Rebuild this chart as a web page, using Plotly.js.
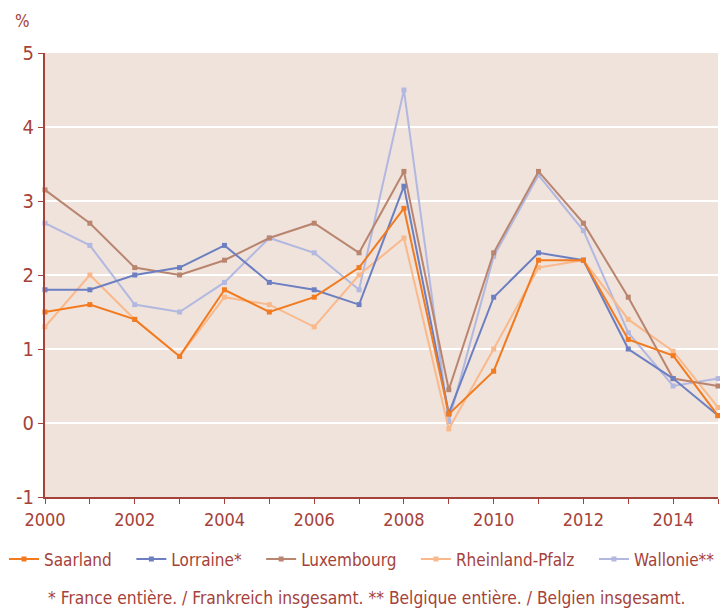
<!DOCTYPE html>
<html>
<head>
<meta charset="utf-8">
<script src="https://cdn.plot.ly/plotly-3.0.1.min.js"></script>
<style>body{margin:0;padding:0;background:#fff;}#chart{width:720px;height:608px;}</style>
</head>
<body>
<div id="chart"></div>
<script>
const years = [2000,2001,2002,2003,2004,2005,2006,2007,2008,2009,2010,2011,2012,2013,2014,2015];
const saarland   = [1.5,1.6,1.4,0.9,1.8,1.5,1.7,2.1,2.9,0.12,0.7,2.2,2.2,1.13,0.91,0.1];
const lorraine   = [1.8,1.8,2.0,2.1,2.4,1.9,1.8,1.6,3.2,0.13,1.7,2.3,2.2,1.0,0.6,0.1];
const luxembourg = [3.15,2.7,2.1,2.0,2.2,2.5,2.7,2.3,3.4,0.45,2.3,3.4,2.7,1.7,0.6,0.5];
const rheinland  = [1.3,2.0,1.4,0.9,1.7,1.6,1.3,2.0,2.5,-0.08,1.0,2.1,2.2,1.4,0.97,0.21];
const wallonie   = [2.7,2.4,1.6,1.5,1.9,2.5,2.3,1.8,4.5,0.02,2.25,3.35,2.6,1.22,0.5,0.6];
const names = ["Saarland","Lorraine*","Luxembourg","Rheinland-Pfalz","Wallonie**"];
const colors = ["#f27a1f","#6c7fc2","#b9856f","#f9b98b","#b2b8e0"];
const series = [saarland, lorraine, luxembourg, rheinland, wallonie];
const yTickVals = [-1,0,1,2,3,4,5];
const yTickText = ["-1","0","1","2","3","4","5"];
const font = "DejaVu Sans Condensed, Roboto, sans-serif";
const txt = "#a5423a";
const pad = "\u00a0\u00a0\u00a0";

const order = [4,3,2,1,0];
const traces = order.map(i => ({
  x: years, y: series[i], name: names[i] + (i < names.length - 1 ? pad : ""),
  type: "scatter", mode: "lines+markers",
  line: {color: colors[i], width: 2},
  marker: {symbol: "square", size: 5, color: colors[i]},
  cliponaxis: false,
  legendrank: i+1
}));

const layout = {
  width: 720, height: 608,
  margin: {l: 45, r: 2, t: 53, b: 111},
  paper_bgcolor: "#ffffff",
  plot_bgcolor: "#efe3dc",
  font: {family: font, color: txt, size: 17},
  showlegend: true,
  legend: {orientation: "h", x: -0.047, xanchor: "left", y: -0.1, yanchor: "top",
           font: {family: font, size: 17, color: txt}, traceorder: "normal", itemwidth: 30},
  xaxis: {range: [2000, 2015], dtick: 1, tick0: 2000, ticklabelstep: 2,
          ticks: "outside", ticklen: 5, tickcolor: txt, tickwidth: 1,
          showline: true, linecolor: txt, linewidth: 2, showgrid: false, zeroline: false,
          tickfont: {family: font, size: 18, color: txt}},
  yaxis: {range: [-1, 5], tickvals: yTickVals, ticktext: yTickText, ticks: "outside", ticklen: 5, tickcolor: txt, tickwidth: 1,
          showline: true, linecolor: txt, linewidth: 2,
          showgrid: true, gridcolor: "#ffffff", gridwidth: 2, zeroline: true, zerolinecolor: "#ffffff", zerolinewidth: 2,
          tickfont: {family: font, size: 20, color: txt}},
  annotations: [
    {text: "%", xref: "paper", yref: "paper", x: -0.047, y: 1.072, xanchor: "left", yanchor: "middle",
     showarrow: false, font: {family: font, size: 17, color: txt}},
    {text: "* France entière. / Frankreich insgesamt. ** Belgique entière. / Belgien insgesamt.",
     xref: "paper", yref: "paper", x: 0.479, y: -0.227, xanchor: "center", yanchor: "middle",
     showarrow: false, font: {family: font, size: 17.3, color: txt}}
  ]
};
Plotly.newPlot("chart", traces, layout, {displayModeBar: false, staticPlot: true});
</script>
</body>
</html>
